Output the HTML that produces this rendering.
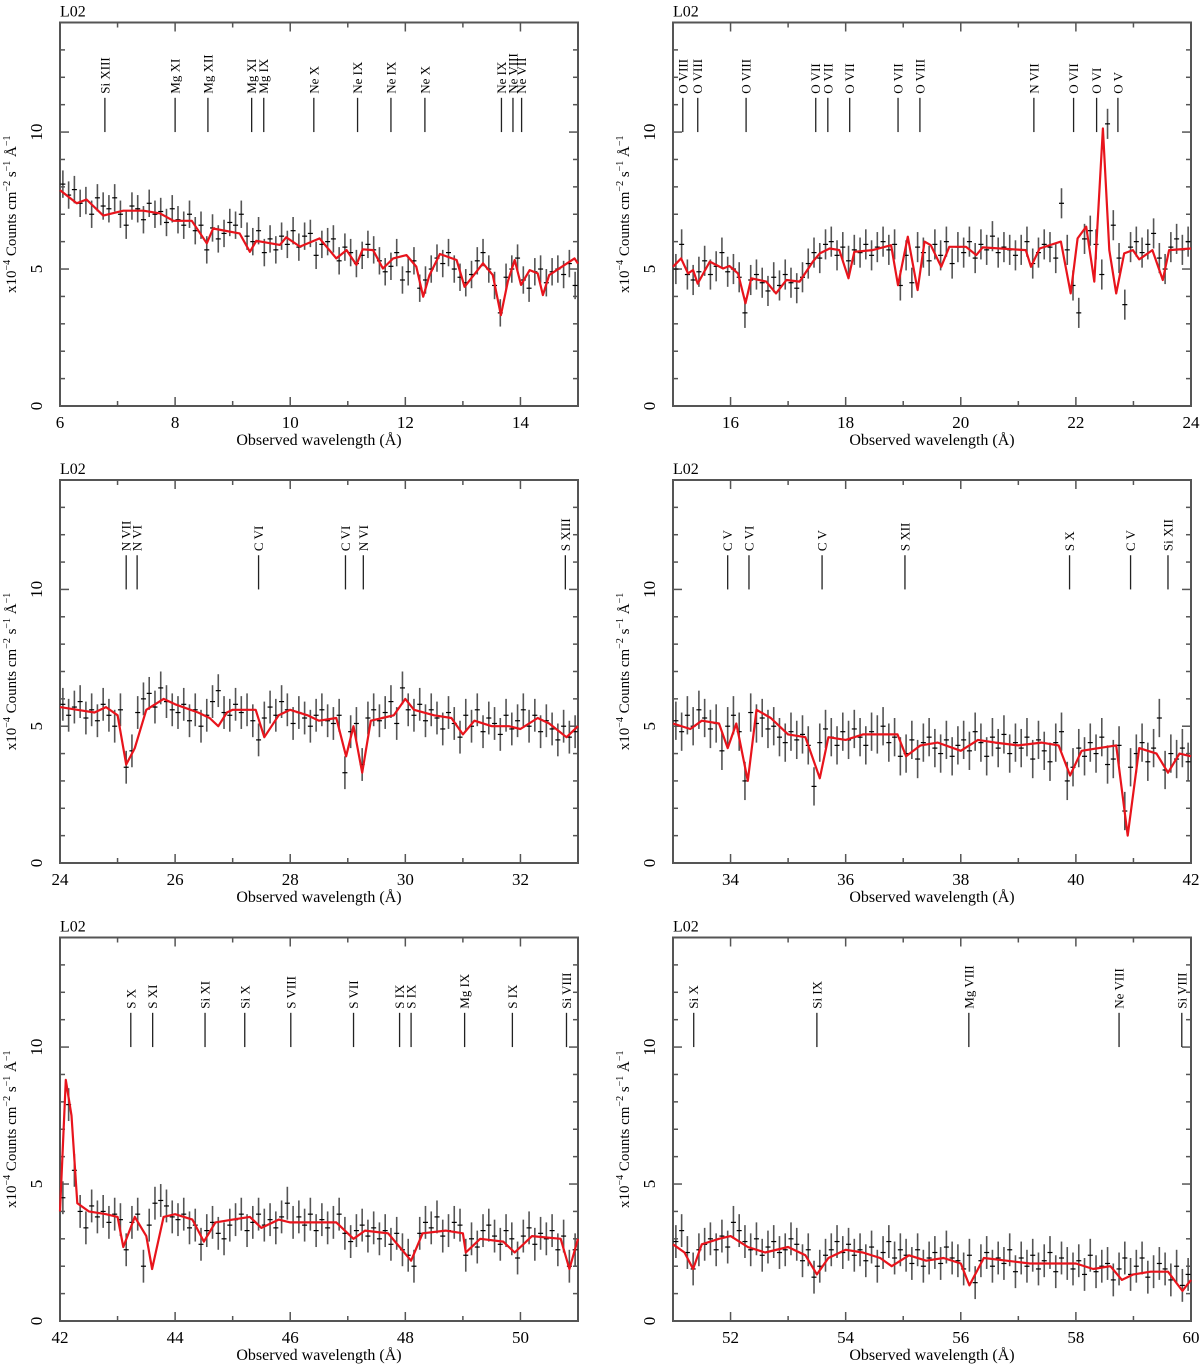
<!DOCTYPE html>
<html><head><meta charset="utf-8"><style>
html,body{margin:0;padding:0;background:#fff}
svg{display:block;font-family:"Liberation Serif",serif}
</style></head><body>
<svg id="chart" width="1200" height="1366" viewBox="0 0 1200 1366" xmlns="http://www.w3.org/2000/svg"></svg>
<script>
// ---- data ----
const xRanges = [[6,15],[15,24],[24,33],[33,42],[42,51],[51,60]];
const yTicks = [0,5,10];
const dataStart = [6.05,15.05,24.05,33.05,42.05,51.05];
const errHalf = [0.5,0.55,0.6,0.7,0.6,0.6];
const data1 = [8.1,7.7,7.9,7.4,7.5,7.0,7.6,7.3,7.2,7.6, 7.0,6.6,7.3,7.2,6.8,7.4,7.0,7.1,6.7,7.2, 6.8,6.6,7.0,6.4,6.6,5.7,6.5,6.1,6.3,6.7, 6.6,7.0,6.2,6.0,6.4,5.6,6.1,5.7,6.2,5.9, 6.4,5.8,6.2,6.3,5.5,5.9,6.0,6.1,5.3,5.8, 5.6,5.2,5.5,5.9,5.7,5.3,4.9,5.1,5.6,4.6, 4.9,5.3,4.3,4.6,5.0,5.4,5.2,5.6,5.0,4.7, 4.5,4.8,5.3,5.6,5.0,4.4,3.4,4.7,5.0,5.4, 4.6,4.3,4.9,5.0,4.5,4.9,5.0,4.8,5.2,4.4];
const data2 = [5.0,5.9,4.8,4.6,4.9,5.3,4.8,5.1,5.6,4.9, 5.0,4.7,3.4,4.6,4.8,4.5,4.2,4.7,4.4,4.8, 4.5,4.3,4.7,5.2,5.6,5.4,5.9,6.0,5.5,5.8, 5.3,5.7,5.6,5.9,5.5,5.8,6.0,5.7,5.9,4.4, 5.5,4.5,5.8,5.6,5.3,5.9,5.5,6.0,5.2,5.8, 5.6,6.0,5.4,5.9,5.7,6.2,5.6,5.8,5.7,5.5, 5.7,6.0,5.2,5.6,5.9,5.8,5.4,7.4,5.7,4.4, 3.4,6.1,6.4,5.9,4.8,10.3,6.6,5.4,3.7,5.8, 6.0,5.6,5.9,6.3,5.4,5.0,5.8,6.1,5.7,6.0];
const data3 = [5.8,5.4,5.7,5.9,5.3,5.6,5.2,5.8,5.4,5.0, 5.6,3.5,4.1,5.5,6.0,6.2,5.7,6.4,5.9,5.6, 5.5,5.8,5.2,5.6,5.0,5.4,5.9,6.3,5.5,5.4, 5.8,5.5,5.6,5.2,4.5,5.3,5.7,5.4,5.9,5.6, 5.1,5.5,5.3,5.0,5.4,5.6,5.2,5.1,5.4,3.3, 4.8,5.1,3.6,5.3,5.6,5.2,5.5,5.9,5.1,6.4, 5.6,5.4,5.8,5.2,5.6,5.3,4.9,5.5,5.1,4.6, 5.4,5.0,5.6,4.8,5.3,5.1,4.7,5.4,4.9,5.2, 5.6,5.0,5.4,4.8,5.2,4.9,4.5,5.0,4.6,4.8];
const data4 = [5.2,4.8,5.4,5.0,5.6,5.3,4.9,5.1,4.1,5.0, 5.4,4.8,3.0,5.5,5.1,5.3,4.9,5.0,4.6,4.4, 4.8,4.5,4.7,4.3,2.8,4.4,4.9,4.6,4.3,4.8, 4.5,4.9,4.6,4.3,4.8,4.7,5.0,4.4,4.6,3.9, 4.0,4.5,3.8,4.4,4.6,4.2,4.0,4.5,3.9,4.3, 4.5,4.1,4.8,4.4,3.9,4.6,4.2,4.7,4.0,4.4, 4.2,4.6,3.8,4.5,4.1,3.7,4.4,4.8,3.0,3.5, 4.2,3.9,4.4,4.0,4.6,3.6,3.8,4.3,1.9,3.5, 4.0,4.4,3.7,4.2,5.3,3.4,4.0,3.8,4.2,3.7];
const data5 = [4.5,7.9,5.5,4.0,3.4,4.2,3.8,4.0,3.6,3.9, 3.7,2.6,3.6,3.9,2.0,3.5,4.3,4.4,4.2,3.8, 3.7,3.9,3.4,3.5,2.8,3.3,3.6,3.2,3.0,3.5, 3.7,3.9,3.3,3.6,3.9,3.5,3.7,3.4,3.8,4.3, 3.6,3.8,3.5,3.9,3.3,3.7,3.4,3.6,3.9,3.2, 2.9,3.3,3.5,3.1,3.4,3.0,3.3,2.8,3.2,2.6, 2.4,2.0,3.2,3.6,3.4,3.8,3.1,3.3,3.6,3.5, 2.4,3.0,2.7,3.3,3.5,3.1,2.8,3.3,3.0,2.3, 3.1,3.4,2.8,3.2,3.0,3.3,2.6,3.1,2.0,2.6];
const data6 = [2.9,3.3,2.5,1.9,2.6,2.8,3.0,2.6,3.1,2.7, 3.6,3.3,2.9,2.6,3.0,2.4,2.7,2.9,2.5,2.6, 3.0,2.8,2.2,2.6,1.6,2.0,2.4,2.6,2.9,2.5, 2.8,2.4,2.6,2.2,2.7,2.0,2.5,2.9,2.3,2.6, 2.4,2.1,2.6,2.0,2.3,2.5,2.1,2.7,2.3,2.2, 1.9,2.4,1.4,2.2,2.5,2.0,2.3,2.1,2.6,1.8, 2.3,2.0,2.4,1.9,2.2,2.5,1.8,2.3,2.1,1.9, 2.2,1.7,2.4,1.8,2.0,2.1,1.5,1.9,2.3,1.7, 2.0,2.3,1.6,1.8,2.1,1.9,1.5,2.0,1.3,1.7];
const modelX1 = [6,6.29,6.46,6.75,7.1,7.45,7.74,7.97,8.29,8.55,8.66,9.12,9.3,9.41,9.82,9.93,10.17,10.51,10.8,10.98,11.15,11.26,11.44,11.61,11.79,12.02,12.19,12.31,12.42,12.6,12.89,13.03,13.35,13.52,13.66,13.78,13.9,14.01,14.16,14.3,14.39,14.5,14.94,15];
const modelY1 = [7.88,7.4,7.54,6.95,7.13,7.13,7.03,6.76,6.76,5.94,6.48,6.3,5.63,6.03,5.88,6.16,5.82,6.12,5.39,5.69,5.15,5.72,5.69,5.02,5.39,5.51,5.09,3.99,4.78,5.55,5.33,4.35,5.21,4.78,3.32,4.54,5.33,4.42,4.96,4.84,4.05,4.78,5.39,5.2];
const modelX2 = [15,15.14,15.26,15.35,15.43,15.64,15.87,15.98,16.13,16.26,16.36,16.62,16.79,16.97,17.2,17.43,17.55,17.72,17.89,18.05,18.15,18.47,18.79,18.91,19.08,19.25,19.37,19.48,19.66,19.8,20.09,20.27,20.38,21.13,21.22,21.37,21.74,21.91,22.03,22.18,22.32,22.47,22.58,22.7,22.84,22.99,23.1,23.33,23.51,23.62,24];
const modelY2 = [5.08,5.39,4.84,4.96,4.47,5.27,5.02,5.11,4.84,3.75,4.66,4.54,4.11,4.6,4.54,5.27,5.57,5.75,5.69,4.66,5.63,5.69,5.87,4.41,6.18,4.23,6.0,5.87,5.08,5.81,5.81,5.51,5.79,5.69,5.08,5.75,6.0,4.11,6.12,6.55,4.54,10.13,5.69,4.11,5.57,5.69,5.35,5.69,4.6,5.69,5.75];
const modelX3 = [24,24.3,24.6,24.8,25.0,25.15,25.3,25.5,25.8,26.0,26.4,26.6,26.75,26.9,27.0,27.4,27.55,27.8,28.0,28.3,28.5,28.8,28.97,29.1,29.25,29.4,29.6,29.8,30.0,30.15,30.5,30.8,31.0,31.2,31.5,31.8,32.0,32.3,32.5,32.8,33.0];
const modelY3 = [5.7,5.6,5.5,5.7,5.4,3.6,4.2,5.6,6.0,5.8,5.5,5.3,5.0,5.5,5.6,5.6,4.6,5.4,5.6,5.4,5.2,5.3,3.9,5.0,3.3,5.2,5.3,5.4,6.0,5.6,5.4,5.3,4.7,5.2,5.0,5.0,4.9,5.3,5.1,4.6,5.0];
const modelX4 = [33,33.3,33.5,33.8,33.95,34.1,34.3,34.45,34.7,35.0,35.3,35.55,35.7,36.0,36.3,36.6,36.9,37.05,37.3,37.6,38.0,38.3,38.6,39.0,39.4,39.7,39.9,40.1,40.4,40.7,40.9,41.1,41.4,41.6,41.8,42];
const modelY4 = [5.1,4.9,5.2,5.1,4.2,5.1,3.0,5.6,5.3,4.7,4.6,3.1,4.6,4.5,4.7,4.7,4.7,3.9,4.3,4.4,4.1,4.5,4.4,4.3,4.4,4.3,3.2,4.1,4.2,4.3,1.0,4.2,4.0,3.3,4.0,3.9];
const modelX5 = [42,42.1,42.2,42.3,42.5,42.8,43.0,43.1,43.3,43.5,43.6,43.8,44.0,44.3,44.5,44.7,45.0,45.3,45.5,45.8,46.0,46.3,46.8,47.1,47.3,47.7,47.9,48.1,48.3,48.7,49.0,49.05,49.3,49.7,49.9,50.2,50.7,50.85,51];
const modelY5 = [4.0,8.8,7.5,4.3,4.0,3.9,3.8,2.7,3.8,3.1,1.9,3.8,3.9,3.7,2.9,3.6,3.7,3.8,3.4,3.7,3.6,3.6,3.6,3.0,3.3,3.2,2.7,2.2,3.2,3.3,3.2,2.5,3.0,2.9,2.5,3.1,3.0,1.9,3.0];
const modelX6 = [51,51.2,51.35,51.5,51.8,52.0,52.3,52.6,53.0,53.3,53.5,53.7,54.0,54.3,54.6,54.8,55.1,55.4,55.7,56.0,56.15,56.4,56.8,57.2,57.6,58.0,58.3,58.6,58.8,59.0,59.3,59.6,59.85,60];
const modelY6 = [2.8,2.5,1.9,2.8,3.0,3.1,2.7,2.5,2.7,2.4,1.7,2.3,2.6,2.5,2.3,2.0,2.4,2.2,2.3,2.1,1.3,2.3,2.2,2.1,2.1,2.1,1.9,2.0,1.5,1.7,1.8,1.8,1.1,1.5];
const lineX1 = [6.78,8.0,8.57,9.33,9.54,10.41,11.17,11.75,12.34,13.67,13.87,14.02];
const lineL1 = ["Si XIII","Mg XI","Mg XII","Mg XI","Mg IX","Ne X","Ne IX","Ne IX","Ne X","Ne IX","Ne VIII","Ne VII"];
const lineX2 = [15.17,15.43,16.27,17.48,17.69,18.07,18.91,19.29,21.27,21.96,22.36,22.73];
const lineL2 = ["O VIII","O VIII","O VIII","O VII","O VII","O VII","O VII","O VIII","N VII","O VII","O VI","O V"];
const lineX3 = [25.15,25.34,27.45,28.96,29.27,32.78];
const lineL3 = ["N VII","N VI","C VI","C VI","N VI","S XIII"];
const lineX4 = [33.95,34.32,35.59,37.03,39.89,40.95,41.6];
const lineL4 = ["C V","C VI","C V","S XII","S X","C V","Si XII"];
const lineX5 = [43.23,43.61,44.52,45.21,46.01,47.1,47.9,48.1,49.03,49.86,50.8];
const lineL5 = ["S X","S XI","Si XI","Si X","S VIII","S VII","S IX","S IX","Mg IX","S IX","Si VIII"];
const lineX6 = [51.36,53.5,56.14,58.75,59.84];
const lineL6 = ["Si X","Si IX","Mg VIII","Ne VIII","Si VIII"];

const datas=[data1,data2,data3,data4,data5,data6];
const modelXs=[modelX1,modelX2,modelX3,modelX4,modelX5,modelX6];
const modelYs=[modelY1,modelY2,modelY3,modelY4,modelY5,modelY6];
const lineXs=[lineX1,lineX2,lineX3,lineX4,lineX5,lineX6];
const lineLs=[lineL1,lineL2,lineL3,lineL4,lineL5,lineL6];

const NS="http://www.w3.org/2000/svg";
const svg=document.getElementById('chart');
function mk(tag,attrs,parent){const e=document.createElementNS(NS,tag);for(const k in attrs)e.setAttribute(k,attrs[k]);parent.appendChild(e);return e;}

const colX=[60,673], W=518, rowTop=[22.5,480,937.5], rowBot=[406,863,1321];
for(let p=0;p<6;p++){
  const c=p%2, r=Math.floor(p/2);
  const x0=colX[c], x1=x0+W, yT=rowTop[r], yB=rowBot[r];
  const [a,b]=xRanges[p];
  const sx=v=>x0+(v-a)/(b-a)*W;
  const sy=v=>yB-v/14*(yB-yT);
  const g=mk('g',{},svg);
  
  
  const lab=mk('text',{x:x0,y:yT-6,'font-size':16},g);lab.textContent='L02';
  
  
  const ax=mk('g',{stroke:'#555','stroke-width':1.5},g);
  
  
  for(let v=a;v<=b;v++){
    const X=sx(v), L=((v%2)===0)?9:5;
    mk('line',{x1:X,x2:X,y1:yB,y2:yB-L},ax);
    mk('line',{x1:X,x2:X,y1:yT,y2:yT+L},ax);
    if(v%2===0){const t=mk('text',{x:X,y:yB+22,'font-size':17,'text-anchor':'middle',stroke:'none',fill:'#000'},g);t.textContent=v;
      
      }
  }
  for(let v=0;v<=14;v++){
    const Y=sy(v), L=(v%5===0)?9:5;
    mk('line',{x1:x0,x2:x0+L,y1:Y,y2:Y},ax);
    mk('line',{x1:x1,x2:x1-L,y1:Y,y2:Y},ax);
  }
  yTicks.forEach(v=>{const Y=sy(v);const t=mk('text',{x:x0-18,y:Y,'font-size':17,'text-anchor':'middle',transform:`rotate(-90 ${x0-18} ${Y})`},g);t.textContent=v;
    
    });
  mk('rect',{x:x0,y:yT,width:W,height:yB-yT,fill:'none',stroke:'#555','stroke-width':2},g);
  const xt=mk('text',{x:x0+W/2,y:yB+39,'font-size':16,'text-anchor':'middle'},g);xt.textContent='Observed wavelength (Å)';
  
  
  const ym=(yT+yB)/2, yx=x0-44;
  const yt=mk('text',{x:yx,y:ym,'font-size':15,'text-anchor':'middle',transform:`rotate(-90 ${yx} ${ym})`},g);
  yt.innerHTML='x10<tspan dy="-6" font-size="10">−4</tspan><tspan dy="6"> Counts cm</tspan><tspan dy="-6" font-size="10">−2</tspan><tspan dy="6"> s</tspan><tspan dy="-6" font-size="10">−1</tspan><tspan dy="6"> Å</tspan><tspan dy="-6" font-size="10">−1</tspan>';
  
  
  lineXs[p].forEach((lx,i)=>{
    const X=sx(lx);
    const ln=mk('line',{x1:X,x2:X,y1:sy(10),y2:sy(11.25),stroke:'#222','stroke-width':1.3},g);
    
    
    const ty=sy(11.4);
    const t=mk('text',{x:X+4.5,y:ty,'font-size':13,'text-anchor':'start',transform:`rotate(-90 ${X+4.5} ${ty})`},g);
    t.textContent=lineLs[p][i];
    
    
  });
  const dg=mk('g',{},g);
  
  
  datas[p].forEach((v,i)=>{
    const lx=dataStart[p]+0.1*i, X=sx(lx), Y=sy(v);
    const e=mk('line',{x1:X,x2:X,y1:sy(v-errHalf[p]),y2:sy(v+errHalf[p]),stroke:'#555','stroke-width':1.6},dg);
    
    
    const h=mk('line',{x1:X-2.5,x2:X+2.5,y1:Y,y2:Y,stroke:'#000','stroke-width':1.2},dg);
    
    
  });
  const pts=modelXs[p].map((mx,i)=>sx(mx).toFixed(1)+','+sy(modelYs[p][i]).toFixed(1)).join(' ');
  const m=mk('polyline',{points:pts,fill:'none',stroke:'#e8141c','stroke-width':2.2,'stroke-linejoin':'round'},g);
  
  
}
</script>
</body></html>
